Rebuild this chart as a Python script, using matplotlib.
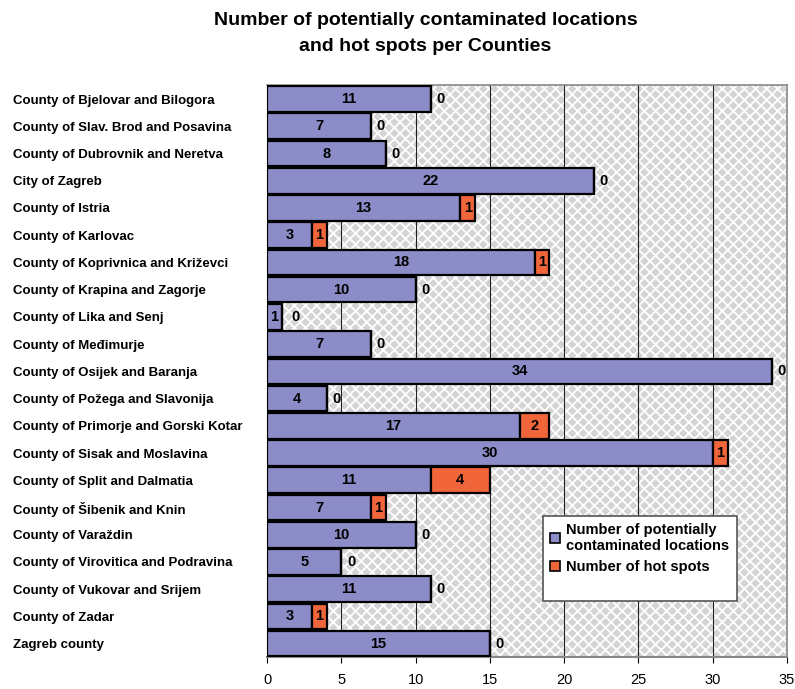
#!/usr/bin/env python3
"""Potentially contaminated locations and hot spots per county (Croatia)."""

import matplotlib
matplotlib.use("Agg")
import matplotlib.pyplot as plt  # noqa: E402
from matplotlib.patches import Rectangle, Patch  # noqa: E402

counties = [
    "County of Bjelovar and Bilogora",
    "County of Slav. Brod and Posavina",
    "County of Dubrovnik and Neretva",
    "City of Zagreb",
    "County of Istria",
    "County of Karlovac",
    "County of Koprivnica and Križevci",
    "County of Krapina and Zagorje",
    "County of Lika and Senj",
    "County of Međimurje",
    "County of Osijek and Baranja",
    "County of Požega and Slavonija",
    "County of Primorje and Gorski Kotar",
    "County of Sisak and Moslavina",
    "County of Split and Dalmatia",
    "County of Šibenik and Knin",
    "County of Varaždin",
    "County of Virovitica and Podravina",
    "County of Vukovar and Srijem",
    "County of Zadar",
    "Zagreb county",
]
contaminated = [11, 7, 8, 22, 13, 3, 18, 10, 1, 7, 34, 4, 17, 30, 11, 7, 10, 5, 11, 3, 15]
hot_spots = [0, 0, 0, 0, 1, 1, 1, 0, 0, 0, 0, 0, 2, 1, 4, 1, 0, 0, 0, 1, 0]
xticks = [0, 5, 10, 15, 20, 25, 30, 35]

BLUE = "#8c8cc8"
ORANGE = "#f0663a"
FONT = ["Liberation Sans", "DejaVu Sans"]

plt.rcParams["font.family"] = FONT
plt.rcParams["hatch.color"] = "white"
plt.rcParams["hatch.linewidth"] = 1.3

fig = plt.figure(figsize=(7.95, 6.89), dpi=100)
ax = fig.add_axes([0.336, 0.046, 0.654, 0.830])

n = len(counties)
ypos = list(range(n))

# hatched grey plot background
ax.set_facecolor("#d4d4d4")
ax.add_patch(Rectangle((0, 0), 1, 1, transform=ax.transAxes, facecolor="none",
                       edgecolor="white", hatch="xxx", lw=0, zorder=0))

for x in xticks[1:-1]:
    ax.axvline(x, color="#222222", lw=0.8, zorder=1)

ax.barh(ypos, contaminated, height=0.94, color=BLUE, edgecolor="black", lw=1.6, zorder=3)
ax.barh(ypos, hot_spots, left=contaminated, height=0.94, color=ORANGE,
        edgecolor="black", lw=1.6, zorder=3)

for y, c, h in zip(ypos, contaminated, hot_spots):
    ax.text(c / 2, y, str(c), ha="center", va="center", fontsize=10.5,
            fontweight="bold", zorder=4)
    if h > 0:
        ax.text(c + h / 2, y, str(h), ha="center", va="center", fontsize=10.5,
                fontweight="bold", zorder=4)
    else:
        ax.annotate("0", (c, y), xytext=(4 if c > 1 else 7, 0), textcoords="offset points",
                    ha="left", va="center", fontsize=10.5, fontweight="bold", zorder=4)

ax.set_xlim(0, 35)
ax.set_ylim(n - 0.5, -0.5)
ax.set_xticks(xticks)
ax.set_xticklabels([str(t) for t in xticks], fontsize=10.5)
ax.tick_params(axis="x", length=4, width=0.8, pad=7)

ax.set_yticks(ypos)
ax.set_yticklabels(counties)
for lbl in ax.get_yticklabels():
    lbl.set_horizontalalignment("left")
    lbl.set_fontweight("bold")
    lbl.set_fontsize(9.5)
ax.tick_params(axis="y", length=0, pad=183)

for side in ["top", "right"]:
    ax.spines[side].set_color("#888888")
    ax.spines[side].set_linewidth(1.2)
ax.spines["bottom"].set_color("#888888")
ax.spines["bottom"].set_linewidth(1.5)
ax.spines["left"].set_color("black")

fig.suptitle("Number of potentially contaminated locations\nand hot spots per Counties",
             x=0.535, y=0.983, fontsize=14, fontweight="bold", linespacing=1.7)

# legend box (drawn separately to get the extra space at the bottom)
ax.add_patch(Rectangle((0.531, 0.098), 0.373, 0.149, transform=ax.transAxes,
                       facecolor="white", edgecolor="#555555", lw=1.2, zorder=5))
handles = [Patch(facecolor=BLUE, edgecolor="black", lw=1.2),
           Patch(facecolor=ORANGE, edgecolor="black", lw=1.2)]
leg = ax.legend(handles, ["Number of potentially\ncontaminated locations",
                          "Number of hot spots"],
                loc="upper left", bbox_to_anchor=(0.531, 0.247), frameon=False,
                handlelength=0.7, handleheight=0.7, handletextpad=0.4,
                borderpad=0.45, borderaxespad=0, labelspacing=0.5,
                prop={"weight": "bold", "size": 10.5})
leg.set_zorder(6)

plt.savefig("out.png", dpi=100)
